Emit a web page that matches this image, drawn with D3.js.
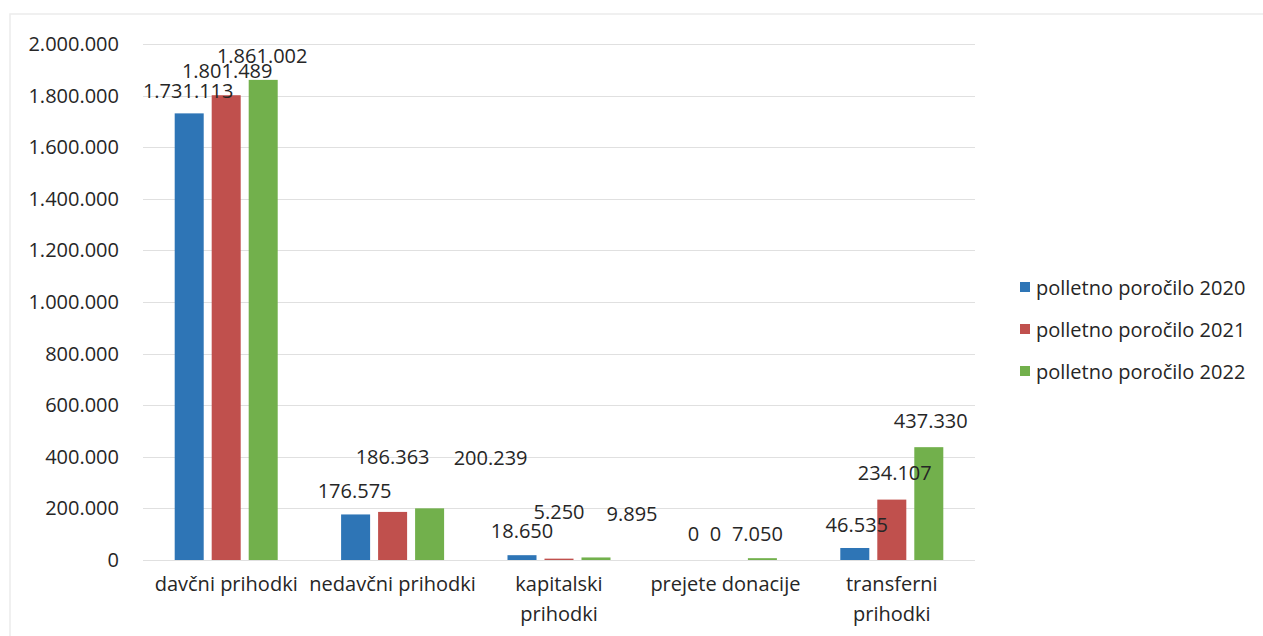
<!DOCTYPE html>
<html>
<head>
<meta charset="utf-8">
<script src="https://cdn.jsdelivr.net/npm/d3@7"></script>
<style>
  html, body { margin: 0; padding: 0; background: #fff; }
  svg { display: block; }
  text { font-family: "Open Sans", Lato, sans-serif; fill: #262626; }
</style>
</head>
<body>
<svg id="chart" width="1263" height="636"></svg>
<script>
// ---- data ----
const categories = ["davčni prihodki", "nedavčni prihodki", "kapitalski prihodki", "prejete donacije", "transferni prihodki"];
const seriesNames = ["polletno poročilo 2020", "polletno poročilo 2021", "polletno poročilo 2022"];
const values2020 = [1731113, 176575, 18650, 0, 46535];
const values2021 = [1801489, 186363, 5250, 0, 234107];
const values2022 = [1861002, 200239, 9895, 7050, 437330];
const yTicks = [0, 200000, 400000, 600000, 800000, 1000000, 1200000, 1400000, 1600000, 1800000, 2000000];

// ---- style (label offsets as placed in the original) ----
const colors = ["#2e75b6", "#c0504d", "#72b04c"];
const labelOffsets = [
  [[-1, -23], [-1, -24], [0, -25], [5, -27], [2, -23]],
  [[1, -25], [0, -55], [0, -47], [-10, -27], [3, -27]],
  [[-1, -24], [61, -51], [36, -44], [-5, -25], [2, -27]]
];

const seriesValues = [values2020, values2021, values2022];
const svg = d3.select("#chart");

const loc = d3.formatLocale({ decimal: ",", thousands: ".", grouping: [3], currency: ["", ""] });
const fmt = loc.format(",d");

const plot = { left: 143, right: 975, top: 44, bottom: 560 };

// faint frame
svg.append("path")
  .attr("d", "M10,1263 L10,14 L1263,14")
  .attr("fill", "none").attr("stroke", "#ececec").attr("stroke-width", 1.5);

const y = d3.scaleLinear().domain([0, 2000000]).range([plot.bottom, plot.top]);
const x0 = d3.scaleBand().domain(categories).range([plot.left, plot.right]).paddingInner(0).paddingOuter(0);
const groupW = 111;
const x1 = d3.scaleBand().domain(d3.range(3)).range([0, groupW]).paddingInner(0.216).paddingOuter(0.108);
const gx = c => x0(c) + (x0.bandwidth() - groupW) / 2;

// gridlines
svg.append("g").selectAll("line").data(yTicks).join("line")
  .attr("x1", plot.left).attr("x2", plot.right)
  .attr("y1", d => Math.round(y(d)) + 0.5).attr("y2", d => Math.round(y(d)) + 0.5)
  .attr("stroke", "#e0e0e0").attr("stroke-width", 1);

// y axis labels
const yAxis = d3.axisLeft(y).tickValues(yTicks).tickFormat(fmt).tickSize(0).tickPadding(0);
const ya = svg.append("g").attr("transform", `translate(119,0)`).call(yAxis);
ya.select(".domain").remove();
ya.selectAll("text").style("font-size", "20px").attr("fill", "#262626")
  .style("font-family", '"Open Sans", Lato, sans-serif');

// bars
const groups = svg.append("g").selectAll("g").data(categories).join("g")
  .attr("transform", c => `translate(${gx(c)},0)`);
groups.selectAll("rect").data((c, i) => seriesValues.map((s, k) => ({ k, v: s[i] })))
  .join("rect")
  .attr("x", d => x1(d.k)).attr("width", x1.bandwidth())
  .attr("y", d => y(d.v)).attr("height", d => y(0) - y(d.v))
  .attr("fill", d => colors[d.k]);

// data labels
groups.selectAll("text.lbl").data((c, i) => seriesValues.map((s, k) => ({ k, i, v: s[i] })))
  .join("text").attr("class", "lbl")
  .attr("x", d => x1(d.k) + x1.bandwidth() / 2 + labelOffsets[d.k][d.i][0])
  .attr("y", d => y(d.v) + labelOffsets[d.k][d.i][1])
  .attr("text-anchor", "middle").attr("dominant-baseline", "central")
  .style("font-size", "20px")
  .text(d => fmt(d.v));

// category labels (wrapped like the original)
const catLines = {
  "davčni prihodki": ["davčni prihodki"],
  "nedavčni prihodki": ["nedavčni prihodki"],
  "kapitalski prihodki": ["kapitalski", "prihodki"],
  "prejete donacije": ["prejete donacije"],
  "transferni prihodki": ["transferni", "prihodki"]
};
const xa = svg.append("g");
categories.forEach(c => {
  const t = xa.append("text")
    .attr("x", x0(c) + x0.bandwidth() / 2)
    .attr("y", 583)
    .attr("text-anchor", "middle").attr("dominant-baseline", "central")
    .style("font-size", "20px");
  catLines[c].forEach((ln, j) => {
    t.append("tspan").attr("x", x0(c) + x0.bandwidth() / 2).attr("dy", j === 0 ? 0 : 30).text(ln);
  });
});

// legend
const lg = svg.append("g").selectAll("g").data(seriesNames).join("g")
  .attr("transform", (d, i) => `translate(1020,${287 + i * 42})`);
lg.append("rect").attr("x", 0).attr("y", -5).attr("width", 10).attr("height", 10)
  .attr("fill", (d, i) => colors[i]);
lg.append("text").attr("x", 16).attr("y", 0).attr("dominant-baseline", "central")
  .style("font-size", "20px").text(d => d);
</script>
</body>
</html>
